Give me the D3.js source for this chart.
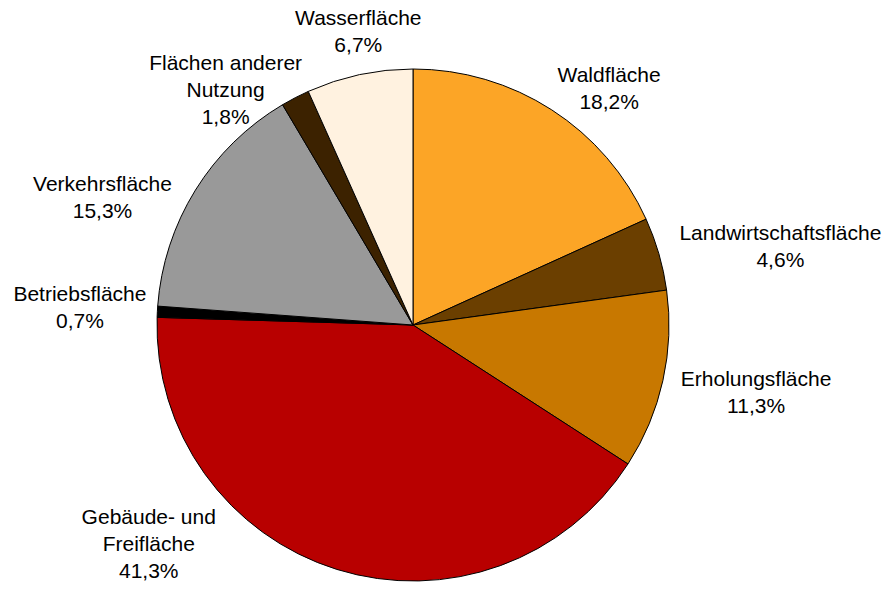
<!DOCTYPE html>
<html>
<head>
<meta charset="utf-8">
<script src="https://cdn.jsdelivr.net/npm/d3@7"></script>
<style>
	body { margin: 0; background: #fff; }
	text { font-family: "Liberation Sans", Arial, sans-serif; font-size: 21px; fill: #000; }
</style>
</head>
<body>
<div id="chart-area"></div>
<script>

// data (clockwise from 12 o'clock)
let categories = ["Waldfläche", "Landwirtschaftsfläche", "Erholungsfläche", "Gebäude- und Freifläche",
	"Betriebsfläche", "Verkehrsfläche", "Flächen anderer Nutzung", "Wasserfläche"];
let values = [18.2, 4.6, 11.3, 41.3, 0.7, 15.3, 1.8, 6.7];
let labelLines = [["Waldfläche"], ["Landwirtschaftsfläche"], ["Erholungsfläche"], ["Gebäude- und", "Freifläche"],
	["Betriebsfläche"], ["Verkehrsfläche"], ["Flächen anderer", "Nutzung"], ["Wasserfläche"]];

// styles / layout
let colors = ["#FCA526", "#6B3F00", "#C87800", "#B80000", "#000000", "#999999", "#3C2200", "#FFF2E0"];
// hand tweaks of label boxes, like the moved labels in the original
let labelNudge = [[22, 13], [11, 4], [6, 3], [-164, -77], [3, -2], [-22, 29], [-28, 41], [15, -3]];

let width = 891, height = 589;
let cx = 413, cy = 325, radius = 256;
let labelRadius = 270, lineHeight = 27;

let svg = d3.select("#chart-area").append("svg")
	.attr("width", width)
	.attr("height", height);

let formatPct = v => d3.format(".1f")(v).replace(".", ",") + "%";

let pie = d3.pie()
	.sort(null)
	.value(d => d.value);

let arc = d3.arc()
	.innerRadius(0)
	.outerRadius(radius);

let data = categories.map((c, i) => ({name: c, value: values[i], lines: labelLines[i], color: colors[i], nudge: labelNudge[i]}));

let g = svg.append("g")
	.attr("transform", "translate(" + cx + "," + cy + ")");

g.selectAll(".slice")
	.data(pie(data))
	.enter()
	.append("path")
	.attr("class", "slice")
	.attr("d", arc)
	.attr("fill", d => d.data.color)
	.attr("stroke", "#000")
	.attr("stroke-width", 1)
	.attr("stroke-linejoin", "round");

// labels
let labels = g.selectAll(".label")
	.data(pie(data))
	.enter()
	.append("text")
	.attr("class", "label")
	.attr("text-anchor", "middle");

labels.each(function(d) {
	let t = d3.select(this);
	let lines = d.data.lines.concat([formatPct(d.data.value)]);
	lines.forEach((l, i) => {
		t.append("tspan").attr("x", 0).attr("y", i * lineHeight).text(l);
	});
	let bb = this.getBBox();
	let w = bb.width;
	let h = lines.length * lineHeight;
	let a = (d.startAngle + d.endAngle) / 2;
	let s = Math.sin(a), c = Math.cos(a);
	let bx = labelRadius * s + s * w / 2 + d.data.nudge[0];
	let by = -labelRadius * c - c * h / 2 + d.data.nudge[1];
	// box center -> first baseline
	let y0 = by - (lines.length - 1) * lineHeight / 2 + 7;
	t.attr("transform", "translate(" + bx + "," + y0 + ")");
});

</script>
</body>
</html>
